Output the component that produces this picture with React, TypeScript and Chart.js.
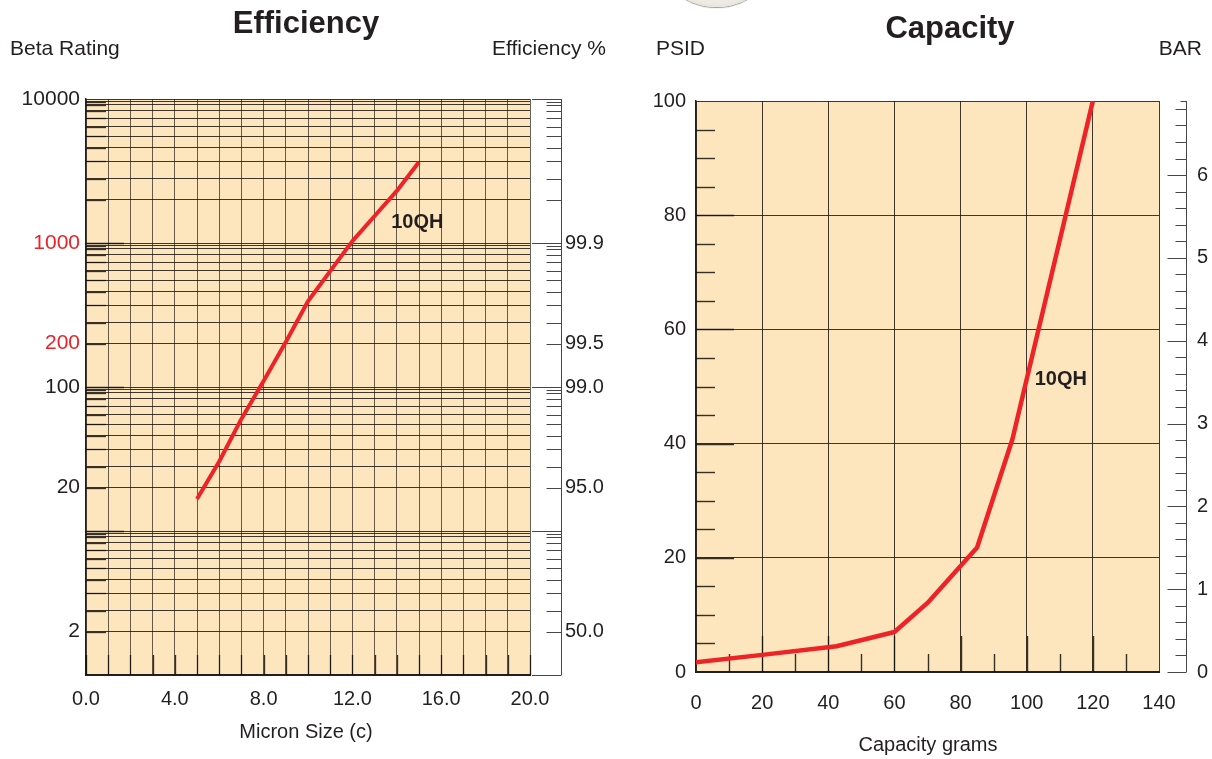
import React, { useEffect, useRef } from 'react';
import { Chart, registerables } from 'chart.js';

Chart.register(...registerables);

const FONT = "'Liberation Sans', Arial, Helvetica, sans-serif";
const INK = '#231f20';
const RED_TEXT = '#e8232a';
const LINE_RED = '#ee2328';
const PAPER = '#fde6be';
const GRID_DARK = 'rgba(28,22,16,0.85)';
const GRID_SOFT = 'rgba(45,36,28,0.72)';
const STRIP_INK = '#4a4644';

// ---------- Efficiency chart data ----------
const MICRON_SIZE = [5, 6, 7, 8, 9, 10, 11, 12, 13, 14, 15];
const BETA_10QH = [16.7, 30.4, 60, 110, 205, 394, 638, 1030, 1540, 2300, 3650];
const BETA_DECADES = [1, 10, 100, 1000, 10000];
const BETA_GRID_STEPS = [2, 2.8, 3.7, 4.6, 5.5, 6.4, 7.35, 8.3, 9.1, 9.55];
const BETA_TICK_VALUES = [10000, 1000, 200, 100, 20, 2];
const BETA_TICK_LABELS = ['10000', '1000', '200', '100', '20', '2'];
const BETA_RED_TICKS = [1000, 200];
const EFF_TICK_BETAS = [1000, 200, 100, 20, 2];
const EFF_TICK_LABELS = ['99.9', '99.5', '99.0', '95.0', '50.0'];
const MICRON_MIN = 0;
const MICRON_MAX = 20;
const MICRON_LABEL_EVERY = 4;
const EFF_SERIES_NAME = '10QH';
const EFF_LABEL_AT = { x: 13.75, y: 1390 };

// ---------- Capacity chart data ----------
const CAPACITY_GRAMS = [0, 20, 42.5, 60, 70, 85, 95.7, 120];
const PSID_10QH = [1.7, 3.0, 4.5, 7.0, 12.1, 21.8, 40.8, 100];
const GRAMS_MIN = 0;
const GRAMS_MAX = 140;
const PSID_MIN = 0;
const PSID_MAX = 100;
const BAR_TICKS = [0, 1, 2, 3, 4, 5, 6];
const PSI_PER_BAR = 14.5038;
const CAP_SERIES_NAME = '10QH';
const CAP_LABEL_AT = { x: 102.4, y: 51.3 };

const BETA_GRID_VALUES: number[] = [];
BETA_DECADES.forEach((d) => {
  BETA_GRID_VALUES.push(d);
  if (d < 10000) BETA_GRID_STEPS.forEach((m) => BETA_GRID_VALUES.push(d * m));
});

function seg(ctx: CanvasRenderingContext2D, x1: number, y1: number, x2: number, y2: number) {
  ctx.beginPath();
  ctx.moveTo(x1, y1);
  ctx.lineTo(x2, y2);
  ctx.stroke();
}

const paperPlugin = {
  id: 'paper',
  beforeDraw(chart: any) {
    const { ctx, chartArea: a } = chart;
    ctx.save();
    ctx.fillStyle = PAPER;
    ctx.fillRect(a.left, a.top, a.right - a.left, a.bottom - a.top);
    ctx.restore();
  },
};

const effDecor = {
  id: 'effDecor',
  beforeDatasetsDraw(chart: any) {
    const { ctx, chartArea: a, scales } = chart;
    const y = scales.y;
    const x = scales.x;
    ctx.save();
    ctx.strokeStyle = 'rgba(18,14,10,0.85)';
    ctx.lineWidth = 1.3;
    BETA_GRID_VALUES.forEach((v) => {
      if (v >= 10000 || v <= 1) return;
      const py = Math.round(y.getPixelForValue(v)) + 0.5;
      const len = BETA_DECADES.includes(v) ? 38 : 20;
      seg(ctx, a.left, py, a.left + len, py);
    });
    for (let i = MICRON_MIN; i <= MICRON_MAX; i++) {
      const px = Math.round(x.getPixelForValue(i)) + 0.5;
      seg(ctx, px, a.bottom, px, a.bottom - 20);
    }
    ctx.restore();
  },
  afterDraw(chart: any) {
    const { ctx, chartArea: a, scales } = chart;
    const ye = scales.yEff;
    const lx = Math.round(a.right + 31) + 0.5;
    ctx.save();
    ctx.strokeStyle = STRIP_INK;
    ctx.lineWidth = 1;
    seg(ctx, lx, a.top, lx, a.bottom);
    BETA_GRID_VALUES.forEach((v) => {
      const py = Math.round(ye.getPixelForValue(v)) + 0.5;
      if (BETA_DECADES.includes(v)) seg(ctx, a.right + 2, py, lx, py);
      else seg(ctx, lx - 15, py, lx, py);
    });
    ctx.fillStyle = INK;
    ctx.font = `bold 20px ${FONT}`;
    ctx.textAlign = 'left';
    ctx.textBaseline = 'middle';
    ctx.fillText(
      chart.data.datasets[0].label,
      scales.x.getPixelForValue(EFF_LABEL_AT.x),
      scales.y.getPixelForValue(EFF_LABEL_AT.y)
    );
    ctx.restore();
  },
};

const capDecor = {
  id: 'capDecor',
  beforeDatasetsDraw(chart: any) {
    const { ctx, chartArea: a, scales } = chart;
    const y = scales.y;
    const x = scales.x;
    ctx.save();
    ctx.strokeStyle = 'rgba(18,14,10,0.85)';
    ctx.lineWidth = 1.4;
    for (let v = PSID_MIN + 5; v < PSID_MAX; v += 5) {
      const py = Math.round(y.getPixelForValue(v)) + 0.5;
      seg(ctx, a.left, py, a.left + (v % 20 === 0 ? 38 : 19), py);
    }
    for (let g = GRAMS_MIN + 10; g < GRAMS_MAX; g += 10) {
      const px = Math.round(x.getPixelForValue(g)) + 0.5;
      seg(ctx, px, a.bottom, px, a.bottom - (g % 20 === 0 ? 36 : 18));
    }
    ctx.restore();
  },
  afterDraw(chart: any) {
    const { ctx, chartArea: a, scales } = chart;
    const yb = scales.yBar;
    const lx = Math.round(a.right + 27) + 0.5;
    ctx.save();
    ctx.strokeStyle = STRIP_INK;
    ctx.lineWidth = 1;
    seg(ctx, lx, a.top, lx, a.bottom);
    seg(ctx, lx - 6, Math.round(a.top) + 0.5, lx, Math.round(a.top) + 0.5);
    const maxBar = PSID_MAX / PSI_PER_BAR;
    for (let k = 0; k * 0.2 <= maxBar + 1e-9; k++) {
      const v = k * 0.2;
      const py = Math.round(yb.getPixelForValue(v)) + 0.5;
      seg(ctx, lx - (k % 5 === 0 ? 19 : 11), py, lx, py);
    }
    ctx.fillStyle = INK;
    ctx.font = `bold 20px ${FONT}`;
    ctx.textAlign = 'left';
    ctx.textBaseline = 'middle';
    ctx.fillText(
      chart.data.datasets[0].label,
      scales.x.getPixelForValue(CAP_LABEL_AT.x),
      scales.y.getPixelForValue(CAP_LABEL_AT.y)
    );
    ctx.restore();
  },
};

function effConfig(): any {
  const labelOf = (v: number) => {
    const i = BETA_TICK_VALUES.indexOf(v);
    return i >= 0 ? BETA_TICK_LABELS[i] : '';
  };
  const effLabelOf = (v: number) => {
    const i = EFF_TICK_BETAS.indexOf(v);
    return i >= 0 ? EFF_TICK_LABELS[i] : '';
  };
  return {
    type: 'line',
    data: {
      datasets: [
        {
          label: EFF_SERIES_NAME,
          data: MICRON_SIZE.map((m, i) => ({ x: m, y: BETA_10QH[i] })),
          borderColor: LINE_RED,
          borderWidth: 4,
          pointRadius: 0,
          tension: 0,
          borderCapStyle: 'butt',
          borderJoinStyle: 'round',
        },
      ],
    },
    options: {
      animation: false,
      responsive: false,
      devicePixelRatio: 1,
      layout: { padding: { top: 99, left: 0, right: 0, bottom: 0 } },
      plugins: { legend: { display: false }, tooltip: { enabled: false }, title: { display: false } },
      scales: {
        x: {
          type: 'linear',
          min: MICRON_MIN,
          max: MICRON_MAX,
          afterFit: (s: any) => { s.height = 84; },
          ticks: {
            stepSize: 1,
            autoSkip: false,
            maxRotation: 0,
            padding: 12,
            color: INK,
            font: { size: 20, family: FONT },
            callback: (v: any) => (Number(v) % MICRON_LABEL_EVERY === 0 ? Number(v).toFixed(1) : ''),
          },
          grid: { color: GRID_SOFT, lineWidth: 1, drawTicks: false },
          border: { color: INK, width: 2 },
        },
        y: {
          type: 'logarithmic',
          min: 1,
          max: 10000,
          afterFit: (s: any) => { s.width = 86; },
          afterBuildTicks: (s: any) => { s.ticks = BETA_GRID_VALUES.map((v) => ({ value: v })); },
          ticks: {
            autoSkip: false,
            padding: 6,
            font: { size: 21, family: FONT },
            color: (c: any) => (BETA_RED_TICKS.includes(c.tick && c.tick.value) ? RED_TEXT : INK),
            callback: (v: any) => labelOf(Number(v)),
          },
          grid: { color: GRID_DARK, lineWidth: 1, drawTicks: false },
          border: { color: INK, width: 1.5 },
        },
        yEff: {
          type: 'logarithmic',
          position: 'right',
          min: 1,
          max: 10000,
          afterFit: (s: any) => { s.width = 90; },
          afterBuildTicks: (s: any) => { s.ticks = EFF_TICK_BETAS.map((v) => ({ value: v })); },
          ticks: {
            autoSkip: false,
            padding: 35,
            color: INK,
            font: { size: 20, family: FONT },
            callback: (v: any) => effLabelOf(Number(v)),
          },
          grid: { drawOnChartArea: false, drawTicks: false },
          border: { display: false },
        },
      },
    },
    plugins: [paperPlugin, effDecor],
  };
}

function capConfig(): any {
  return {
    type: 'line',
    data: {
      datasets: [
        {
          label: CAP_SERIES_NAME,
          data: CAPACITY_GRAMS.map((g, i) => ({ x: g, y: PSID_10QH[i] })),
          borderColor: LINE_RED,
          borderWidth: 4.5,
          pointRadius: 0,
          tension: 0,
          borderJoinStyle: 'round',
        },
      ],
    },
    options: {
      animation: false,
      responsive: false,
      devicePixelRatio: 1,
      layout: { padding: { top: 101, left: 0, right: 0, bottom: 0 } },
      plugins: { legend: { display: false }, tooltip: { enabled: false }, title: { display: false } },
      scales: {
        x: {
          type: 'linear',
          min: GRAMS_MIN,
          max: GRAMS_MAX,
          afterFit: (s: any) => { s.height = 87; },
          ticks: {
            stepSize: 20,
            autoSkip: false,
            maxRotation: 0,
            padding: 19,
            color: INK,
            font: { size: 20, family: FONT },
          },
          grid: { color: GRID_DARK, lineWidth: 1, drawTicks: false },
          border: { color: INK, width: 2 },
        },
        y: {
          type: 'linear',
          min: PSID_MIN,
          max: PSID_MAX,
          afterFit: (s: any) => { s.width = 76; },
          ticks: {
            stepSize: 20,
            autoSkip: false,
            padding: 10,
            color: INK,
            font: { size: 20, family: FONT },
          },
          grid: { color: GRID_DARK, lineWidth: 1, drawTicks: false },
          border: { color: INK, width: 1.5 },
        },
        yBar: {
          type: 'linear',
          position: 'right',
          min: PSID_MIN / PSI_PER_BAR,
          max: PSID_MAX / PSI_PER_BAR,
          afterFit: (s: any) => { s.width = 53; },
          afterBuildTicks: (s: any) => { s.ticks = BAR_TICKS.map((v) => ({ value: v })); },
          ticks: {
            autoSkip: false,
            padding: 38,
            color: INK,
            font: { size: 20, family: FONT },
            callback: (v: any) => String(v),
          },
          grid: { drawOnChartArea: false, drawTicks: false },
          border: { display: false },
        },
      },
    },
    plugins: [paperPlugin, capDecor],
  };
}

function Txt(props: { children: React.ReactNode; left?: number; right?: number; center?: number; top: number; size: number; bold?: boolean }) {
  const style: React.CSSProperties = {
    position: 'absolute',
    top: props.top,
    fontSize: props.size,
    lineHeight: 1,
    fontWeight: props.bold ? 700 : 400,
    whiteSpace: 'nowrap',
    color: INK,
  };
  if (props.center !== undefined) {
    style.left = props.center;
    style.transform = 'translateX(-50%)';
  } else if (props.right !== undefined) {
    style.right = 1212 - props.right;
  } else {
    style.left = props.left;
  }
  return <div style={style}>{props.children}</div>;
}

export default function App() {
  const effRef = useRef<HTMLCanvasElement>(null);
  const capRef = useRef<HTMLCanvasElement>(null);

  useEffect(() => {
    const c1 = new Chart(effRef.current as HTMLCanvasElement, effConfig());
    const c2 = new Chart(capRef.current as HTMLCanvasElement, capConfig());
    return () => {
      c1.destroy();
      c2.destroy();
    };
  }, []);

  return (
    <div
      style={{
        position: 'absolute',
        left: 0,
        top: 0,
        width: 1212,
        height: 759,
        overflow: 'hidden',
        background: '#ffffff',
        fontFamily: FONT,
      }}
    >
      <div
        style={{
          position: 'absolute',
          left: 653,
          top: -120,
          width: 127,
          height: 127,
          borderRadius: '50%',
          background: 'radial-gradient(circle at 50% 45%, #fbfaf7 0%, #eeebe5 70%, #b8b3aa 100%)',
          boxShadow: '0 1px 1px rgba(90,85,75,0.6)',
        }}
      />
      <canvas ref={effRef} width={620} height={759} style={{ position: 'absolute', left: 0, top: 0 }} />
      <canvas ref={capRef} width={592} height={759} style={{ position: 'absolute', left: 620, top: 0 }} />

      <Txt center={306} top={7} size={31} bold>Efficiency</Txt>
      <Txt left={10} top={37} size={21}>Beta Rating</Txt>
      <Txt right={606} top={37} size={21}>Efficiency %</Txt>
      <Txt center={306} top={721} size={20}>Micron Size (c)</Txt>

      <Txt center={950} top={12} size={31} bold>Capacity</Txt>
      <Txt left={656} top={37} size={21}>PSID</Txt>
      <Txt right={1202} top={37} size={21}>BAR</Txt>
      <Txt center={928} top={734} size={20}>Capacity grams</Txt>
    </div>
  );
}
